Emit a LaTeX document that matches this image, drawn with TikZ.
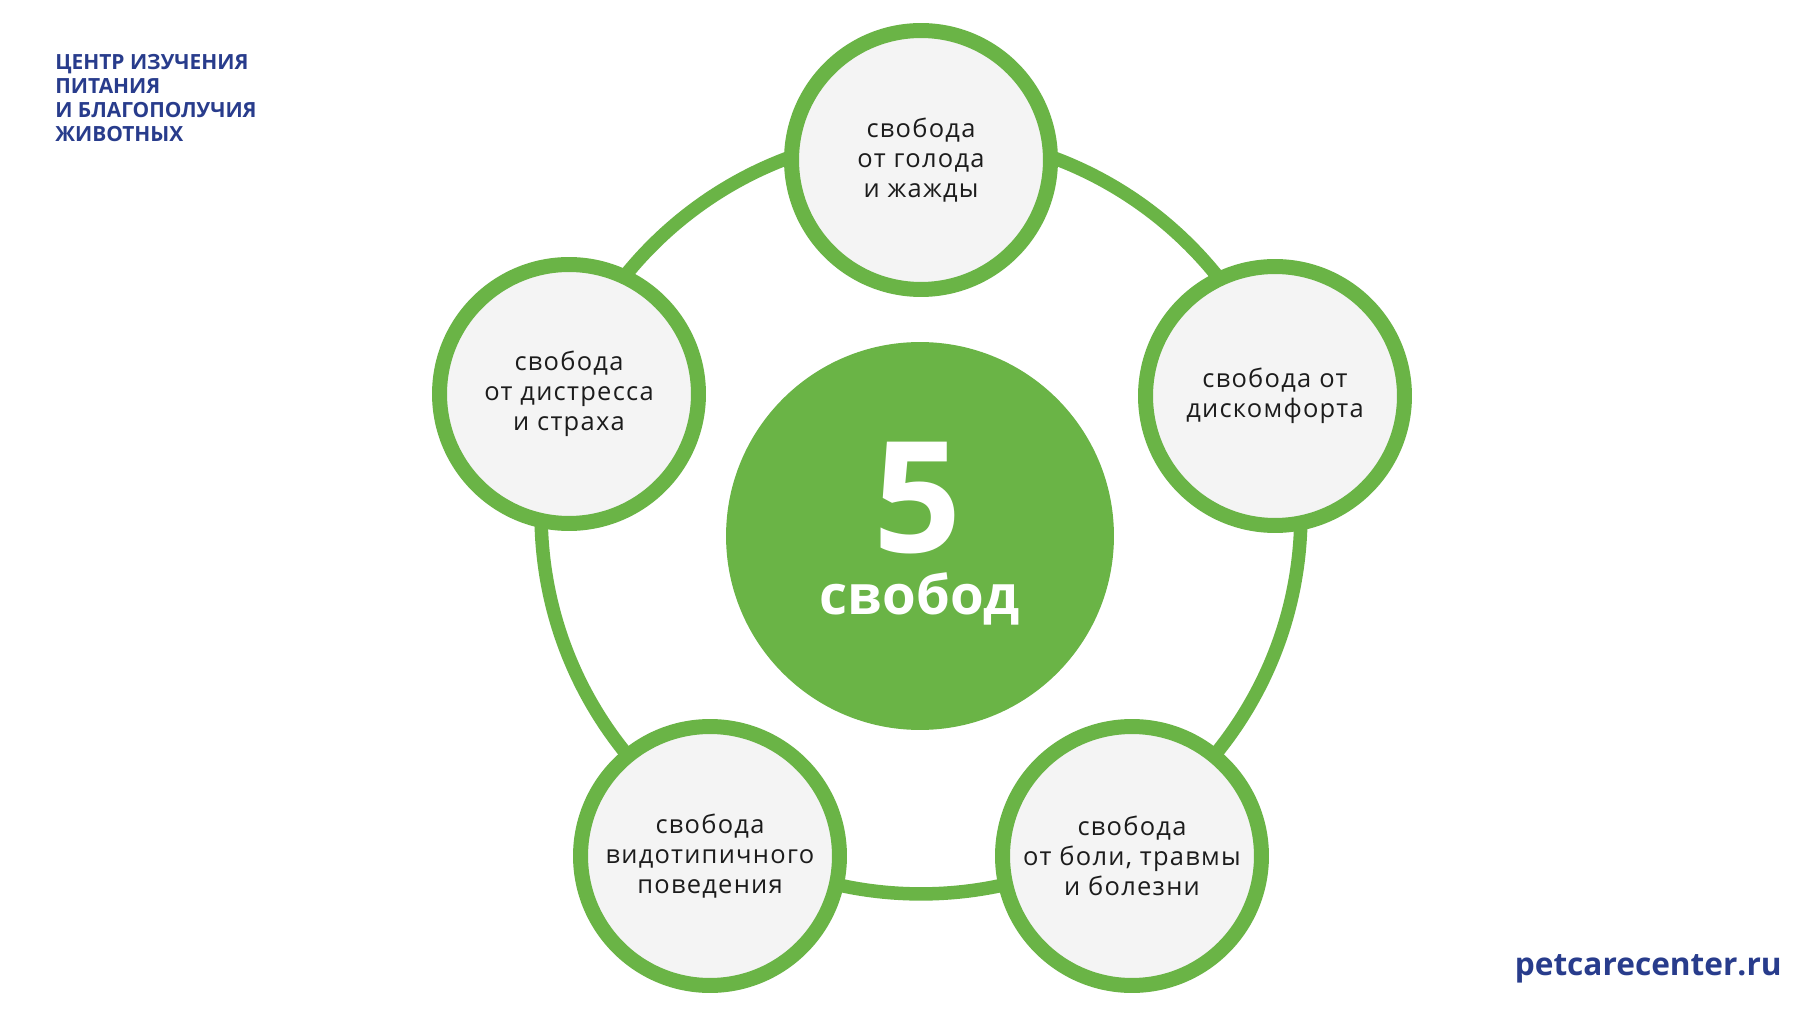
\documentclass[tikz,border=0pt]{standalone}
\usepackage{fontspec}
\setmainfont{Open Sans}
\newfontfamily\wideface[LetterSpace=5]{Open Sans}
\definecolor{leafgreen}{HTML}{6AB446}
\definecolor{palegray}{HTML}{F4F4F4}
\definecolor{inkblue}{HTML}{283C8C}
\definecolor{inkblack}{HTML}{1C1C1C}

\begin{document}
\begin{tikzpicture}[x=0.02cm, y=-0.02cm,
  freedom/.style={circle, draw=leafgreen, line width=0.3cm, fill=palegray,
    minimum size=5.18cm, inner sep=0pt, align=center, text=inkblack,
    font=\wideface\fontsize{14.5}{17}\selectfont},
  ring/.style={draw=leafgreen, line width=0.27cm}]
\useasboundingbox[fill=white] (0,0) rectangle (1820,1020);
\coordinate (ringc) at (921,514);
\draw[ring] (ringc) circle[radius=7.6cm];
\node[circle, fill=leafgreen, minimum size=7.76cm, inner sep=0pt] (core) at (920,536) {};
\node[text=white, inner sep=0pt, font=\fontsize{88}{88}\bfseries] (five) at (918,498) {5};
\node[text=white, inner sep=0pt, font=\fontsize{31}{31}\bfseries, anchor=base] (word) at (920,615) {свобод};
\node[freedom] (hunger) at (921,160) {свобода\\от голода\\и жажды};
\node[freedom] (comfort) at (1275,396) {свобода от\\дискомфорта};
\node[freedom] (pain) at (1132,856) {свобода\\от боли, травмы\\и болезни};
\node[freedom] (habits) at (710,856) {свобода\\видотипичного\\поведения};
\node[freedom] (fear) at (569,394) {свобода\\от дистресса\\и страха};
\node[anchor=west, align=left, inner sep=0pt, text=inkblue, font=\fontsize{11.9}{13.7}\bfseries] (centre) at (55,98)
  {ЦЕНТР ИЗУЧЕНИЯ\\ПИТАНИЯ\\И БЛАГОПОЛУЧИЯ\\ЖИВОТНЫХ};
\node[anchor=base east, inner sep=0pt, text=inkblue, font=\fontsize{18}{18}\bfseries] (site) at (1782,975) {petcarecenter.ru};
\end{tikzpicture}
\end{document}
